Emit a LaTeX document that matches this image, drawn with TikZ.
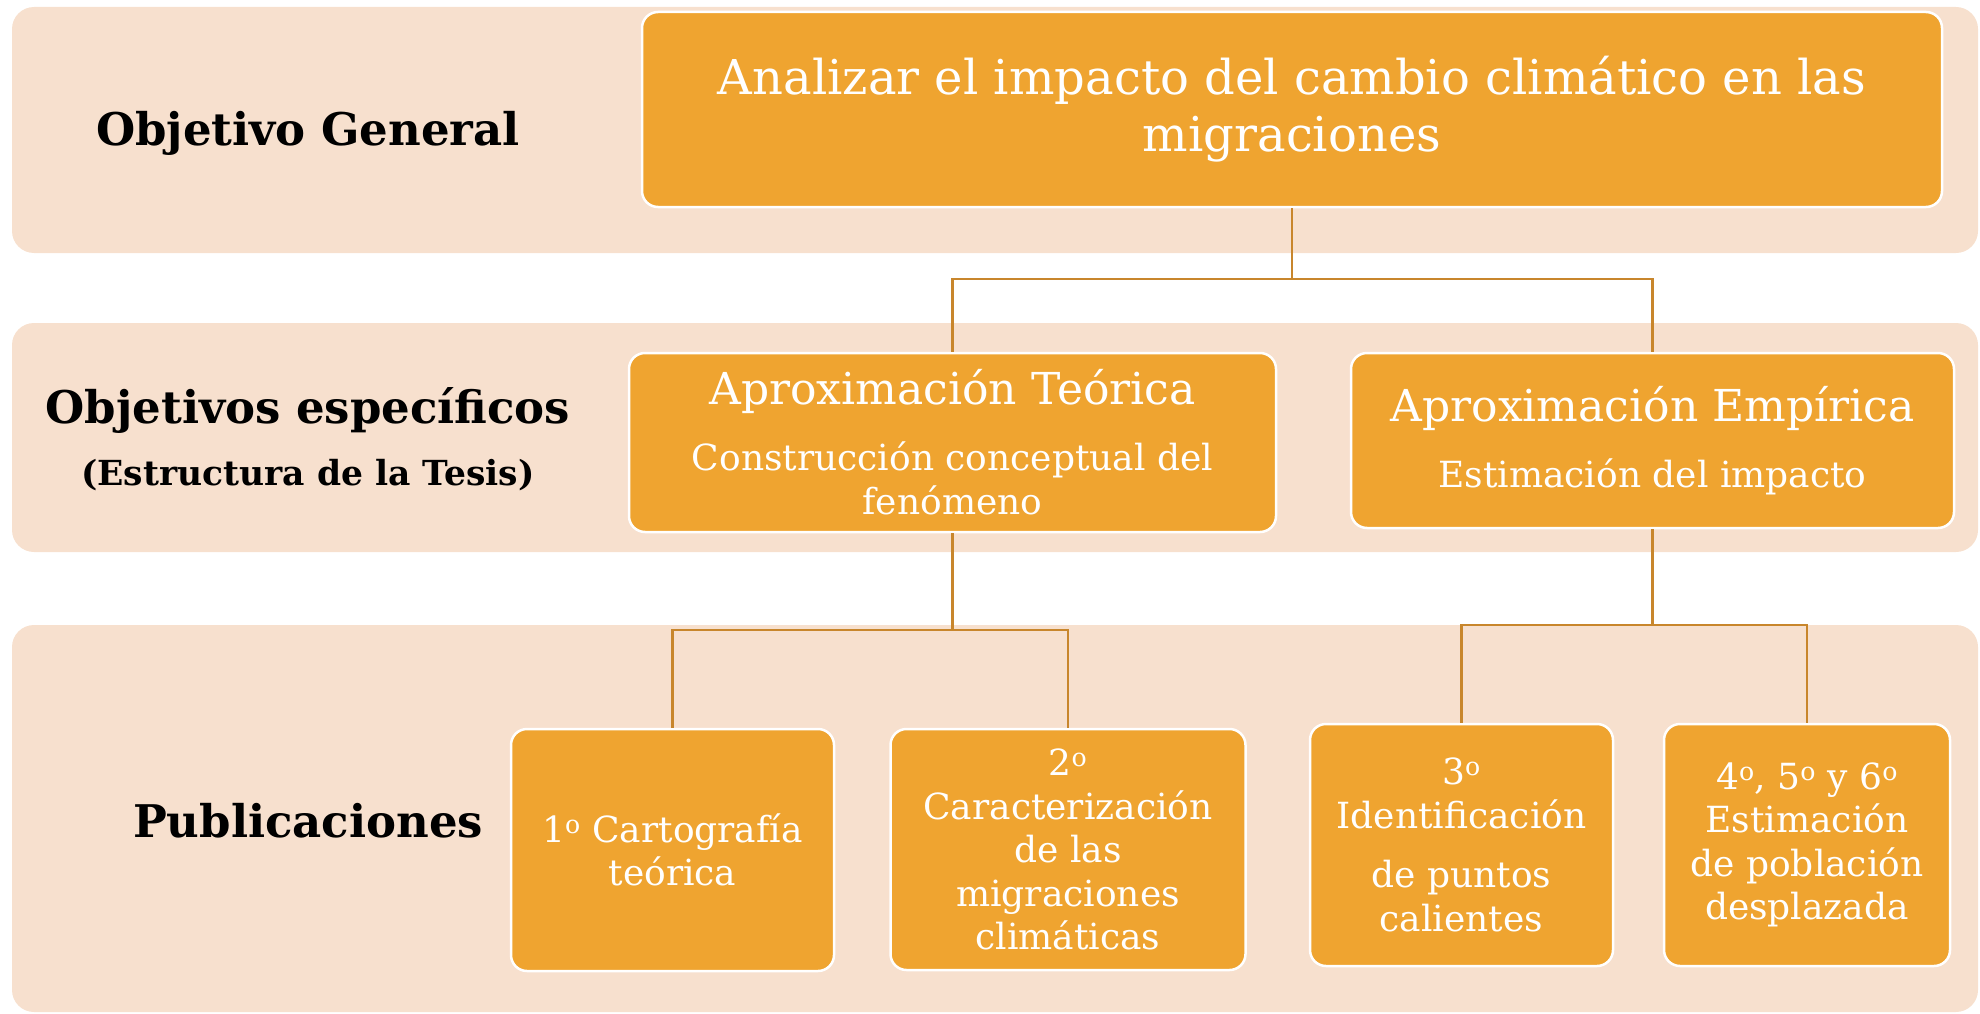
\documentclass[tikz,border=0pt]{standalone}
\usepackage{fontspec}
\setmainfont{DejaVu Serif}
\definecolor{bandc}{RGB}{247,224,206}
\definecolor{boxc}{RGB}{239,164,48}
\definecolor{connc}{RGB}{200,134,44}
\tikzset{
  band/.style={fill=bandc, rounded corners=22pt},
  obox/.style={draw=white, line width=2.5pt, fill=boxc, rounded corners=16pt,
    text=white, align=center, inner sep=0pt, anchor=center},
  lbl/.style={text=black, align=center, anchor=base, inner sep=0pt},
  conn/.style={draw=connc, line width=2.4pt},
}
\newcommand{\ordo}{\textsuperscript{o}}
\begin{document}
\begin{tikzpicture}[x=1pt,y=-1pt]
\useasboundingbox (0,0) rectangle (1980,1014);
% bands
\fill[band] (12,7) rectangle (1978,253);
\fill[band] (12,323) rectangle (1978,552);
\fill[band] (12,625) rectangle (1978,1012);
% left labels
\node[lbl, font=\bfseries\fontsize{45}{52}\selectfont] (lg) at (308,146) {Objetivo General};
\node[lbl, font=\bfseries\fontsize{45}{52}\selectfont] (le) at (308,423) {Objetivos específicos};
\node[lbl, font=\bfseries\fontsize{34.5}{40}\selectfont] (lt) at (308,485) {(Estructura de la Tesis)};
\node[lbl, font=\bfseries\fontsize{45}{52}\selectfont] (lp) at (308,837) {Publicaciones};
% boxes
\node[obox, minimum width=1300pt, minimum height=195pt, font=\fontsize{48}{57}\selectfont] (gen) at (1292,109.5)
  {Analizar el impacto del cambio climático en las\\migraciones};
\node[obox, minimum width=647pt, minimum height=179pt, font=\fontsize{36}{44}\selectfont] (teo) at (952.5,442.5)
  {{\fontsize{44}{52}\selectfont Aproximación Teórica}\\[22pt]Construcción conceptual del\\fenómeno};
\node[obox, minimum width=603pt, minimum height=175pt, font=\fontsize{36}{44}\selectfont] (emp) at (1652.5,440.5)
  {{\fontsize{44}{52}\selectfont Aproximación Empírica}\\[22pt]Estimación del impacto};
\node[obox, minimum width=323pt, minimum height=242pt, font=\fontsize{36}{43.5}\selectfont] (p1) at (672.5,850)
  {1\ordo{} Cartografía\\teórica};
\node[obox, minimum width=355pt, minimum height=241pt, font=\fontsize{36}{43.5}\selectfont] (p2) at (1068,849.5)
  {2\ordo\\Caracterización\\de las\\migraciones\\climáticas};
\node[obox, minimum width=303pt, minimum height=242pt, font=\fontsize{36}{43.5}\selectfont] (p3) at (1461.5,845)
  {3\ordo\\Identificación\\[16pt]de puntos\\calientes};
\node[obox, minimum width=286pt, minimum height=242pt, font=\fontsize{36}{43.5}\selectfont] (p4) at (1807,845)
  {4\ordo, 5\ordo{} y 6\ordo\\Estimación\\de población\\desplazada};
% connectors
\coordinate (j1) at (gen.south |- 0,279);
\coordinate (j2) at (teo.south |- 0,630);
\coordinate (j3) at (emp.south |- 0,625);
\draw[conn] (gen.south) -- (j1);
\draw[conn] (teo.north) |- (j1) -| (emp.north);
\draw[conn] (teo.south) -- (j2);
\draw[conn] (p1.north) |- (j2) -| (p2.north);
\draw[conn] (emp.south) -- (j3);
\draw[conn] (p3.north) |- (j3) -| (p4.north);
\end{tikzpicture}
\end{document}
